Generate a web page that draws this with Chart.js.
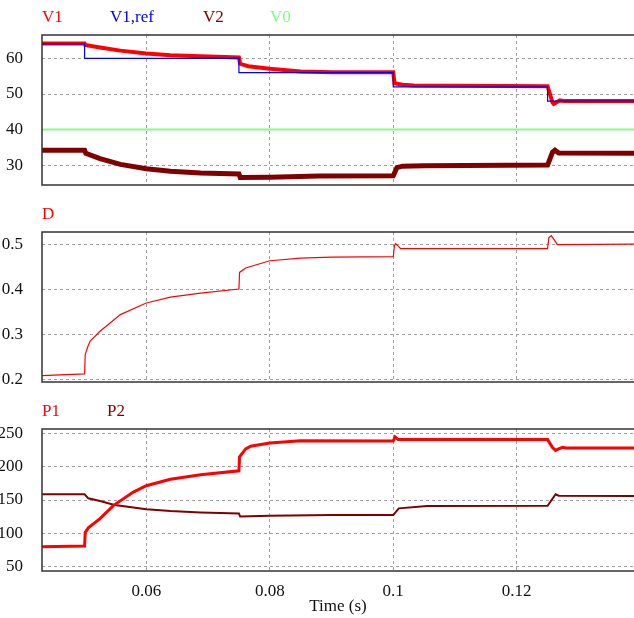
<!DOCTYPE html>
<html>
<head>
<meta charset="utf-8">
<script src="https://cdn.jsdelivr.net/npm/chart.js@4"></script>
<style>
  body { margin: 0; background: #fff; }
  #wrap { position: relative; width: 634px; height: 618px; overflow: hidden; }
  canvas { position: absolute; left: 0; }
</style>
</head>
<body>
<div id="wrap">
  <canvas id="painelP" width="634" height="221" style="top:397px"></canvas>
  <canvas id="painelD" width="634" height="212" style="top:200px"></canvas>
  <canvas id="painelV" width="634" height="215" style="top:0px"></canvas>
</div>
<script>
// ---------- dados ----------
const tempoMin = 0.0431;
const tempoMax = 0.139;
const tempoTicks = [0.06, 0.08, 0.1, 0.12];

const vTicks = [30, 40, 50, 60];
const dTicks = [0.2, 0.3, 0.4, 0.5];
const pTicks = [50, 100, 150, 200, 250];

// pares [tempo (s), valor]
const v1 = [
  [0.0431, 64.2], [0.05, 64.2], [0.0501, 63.8], [0.0525, 63.1], [0.0558, 62.2],
  [0.06, 61.4], [0.0639, 60.9], [0.0688, 60.6], [0.075, 60.3], [0.0752, 58.5],
  [0.0765, 57.8], [0.08, 57.1], [0.085, 56.3], [0.09, 56.1], [0.1, 56.1],
  [0.1002, 53.0], [0.1015, 52.6], [0.1033, 52.4], [0.11, 52.3], [0.125, 52.2],
  [0.1258, 47.6], [0.126, 47.2], [0.1266, 47.8], [0.127, 48.2], [0.1278, 48.0], [0.139, 48.0],
];
const v1ref = [
  [0.0431, 64.1], [0.05, 64.1], [0.05, 60], [0.075, 60], [0.075, 56],
  [0.1, 56], [0.1, 52], [0.125, 52], [0.125, 48], [0.139, 48],
];
const v2 = [
  [0.0431, 34.2], [0.05, 34.2], [0.0502, 33.3], [0.0525, 31.8], [0.0558, 30.2],
  [0.06, 29.0], [0.0639, 28.3], [0.0688, 27.8], [0.075, 27.5], [0.0752, 26.5],
  [0.08, 26.6], [0.088, 26.9], [0.1, 27.0], [0.1006, 29.3], [0.1015, 29.7],
  [0.105, 29.8], [0.125, 30.0], [0.1258, 33.6], [0.1262, 34.2], [0.1268, 33.4], [0.139, 33.3],
];
const v0 = [[0.0431, 40], [0.139, 40]];

const dCiclo = [
  [0.0431, 0.208], [0.05, 0.212], [0.0501, 0.255], [0.0505, 0.272], [0.0509, 0.285],
  [0.0525, 0.307], [0.0558, 0.344], [0.06, 0.37], [0.0639, 0.383], [0.0688, 0.392],
  [0.075, 0.401], [0.0751, 0.438], [0.0761, 0.448], [0.08, 0.464], [0.085, 0.47],
  [0.09, 0.472], [0.1, 0.473], [0.1002, 0.498], [0.1004, 0.502], [0.1012, 0.491],
  [0.125, 0.491], [0.1252, 0.515], [0.1256, 0.52], [0.1266, 0.5], [0.139, 0.501],
];

const p1 = [
  [0.0431, 79.5], [0.05, 80.5], [0.0501, 101], [0.0506, 108], [0.0525, 122],
  [0.0547, 142], [0.0579, 162], [0.06, 171.5], [0.0639, 181.3], [0.0688, 187.9],
  [0.075, 194], [0.0751, 215], [0.0761, 227], [0.0769, 231], [0.08, 235.9],
  [0.085, 239.4], [0.1, 239], [0.1003, 245], [0.1008, 241], [0.125, 241],
  [0.1258, 229], [0.1263, 224.7], [0.1268, 227], [0.1274, 229.3], [0.128, 228.3], [0.139, 228.3],
];
const p2 = [
  [0.0431, 158.6], [0.05, 158.6], [0.0506, 152.5], [0.0525, 148.5], [0.0547, 143],
  [0.0558, 141.5], [0.06, 136], [0.0639, 133.3], [0.0688, 131.3], [0.075, 129.8],
  [0.0752, 125], [0.08, 126.3], [0.09, 127.3], [0.1, 127.3], [0.1009, 137.4],
  [0.1055, 140.9], [0.125, 141.4], [0.1263, 158.6], [0.1268, 156.5], [0.139, 156],
];

// ---------- estilo ----------
const fonte = "'Liberation Serif', 'Times New Roman', serif";
const corGrade = "#a0a0a0";

const toXY = (pts) => pts.map((p) => ({ x: p[0], y: p[1] }));

function serie(label, pts, cor, largura, ordem) {
  return {
    label: label,
    data: toXY(pts),
    borderColor: cor,
    borderWidth: largura,
    pointRadius: 0,
    tension: 0,
    fill: false,
    order: ordem,
  };
}

// nomes das series no topo de cada painel
const legendaTopo = {
  id: "legendaTopo",
  afterDraw(chart, args, opts) {
    const c = chart.ctx;
    c.save();
    c.font = "17px " + fonte;
    c.textBaseline = "alphabetic";
    c.textAlign = "left";
    chart.data.datasets.forEach((ds, i) => {
      c.fillStyle = ds.borderColor;
      c.fillText(ds.label, opts.xs[i], opts.y);
    });
    c.restore();
  },
};

// moldura do grafico
const moldura = {
  id: "moldura",
  afterDraw(chart) {
    const a = chart.chartArea;
    const c = chart.ctx;
    c.save();
    c.strokeStyle = "#333";
    c.lineWidth = 1.5;
    c.strokeRect(a.left, a.top, a.right - a.left + 2, a.bottom - a.top);
    c.restore();
  },
};

// o eixo y reserva ~30px embaixo (meia altura do rotulo + padding),
// entao os paineis de cima usam canvas mais altos que se sobrepoem
function painel(id, datasets, yMin, yMax, yTicks, legXs, legY, topo, comTempo) {
  return new Chart(document.getElementById(id), {
    type: "line",
    data: { datasets: datasets },
    options: {
      responsive: false,
      animation: false,
      devicePixelRatio: 1,
      layout: { padding: { top: topo, bottom: comTempo ? 0 : 30, left: 0, right: 0 } },
      plugins: {
        legend: { display: false },
        tooltip: { enabled: false },
        legendaTopo: { xs: legXs, y: legY },
      },
      scales: {
        x: {
          type: "linear",
          min: tempoMin,
          max: tempoMax,
          afterBuildTicks: (s) => { s.ticks = tempoTicks.map((v) => ({ value: v })); },
          afterFit: (s) => { s.height = comTempo ? 47 : 0; },
          grid: { color: corGrade, lineWidth: 1, drawTicks: false },
          border: { display: false, dash: [3, 3] },
          ticks: {
            display: comTempo,
            padding: 10,
            color: "#111",
            font: { family: fonte, size: 17 },
            maxRotation: 0,
            callback: (v) => String(v),
          },
          title: {
            display: comTempo,
            text: "Time (s)",
            color: "#111",
            font: { family: fonte, size: 17 },
            padding: { top: 0, bottom: 1 },
          },
        },
        y: {
          min: yMin,
          max: yMax,
          afterBuildTicks: (s) => { s.ticks = yTicks.map((v) => ({ value: v })); },
          afterFit: (s) => { s.width = 42; },
          grid: { color: corGrade, lineWidth: 1, drawTicks: false },
          border: { display: false, dash: [3, 3] },
          ticks: {
            padding: 19,
            color: "#111",
            font: { family: fonte, size: 17 },
            callback: (v) => String(v),
          },
        },
      },
    },
    plugins: [legendaTopo, moldura],
  });
}

// ---------- tensoes ----------
painel(
  "painelV",
  [
    serie("V1", v1, "#ff0000", 4, 1),
    serie("V1,ref", v1ref, "#0000ff", 1.2, 0),
    serie("V2", v2, "#800000", 5, 2),
    serie("V0", v0, "#80ff80", 2, 3),
  ],
  24.4, 66.6, vTicks, [42, 110, 203, 270], 22, 35, false
);

// ---------- razao ciclica ----------
painel(
  "painelD",
  [serie("D", dCiclo, "#ff0000", 1.2, 0)],
  0.194, 0.528, dTicks, [42], 19, 32, false
);

// ---------- potencias ----------
painel(
  "painelP",
  [
    serie("P1", p1, "#ff0000", 3, 0),
    serie("P2", p2, "#800000", 2, 1),
  ],
  43, 257, pTicks, [42, 107], 19, 32, true
);
</script>
</body>
</html>
